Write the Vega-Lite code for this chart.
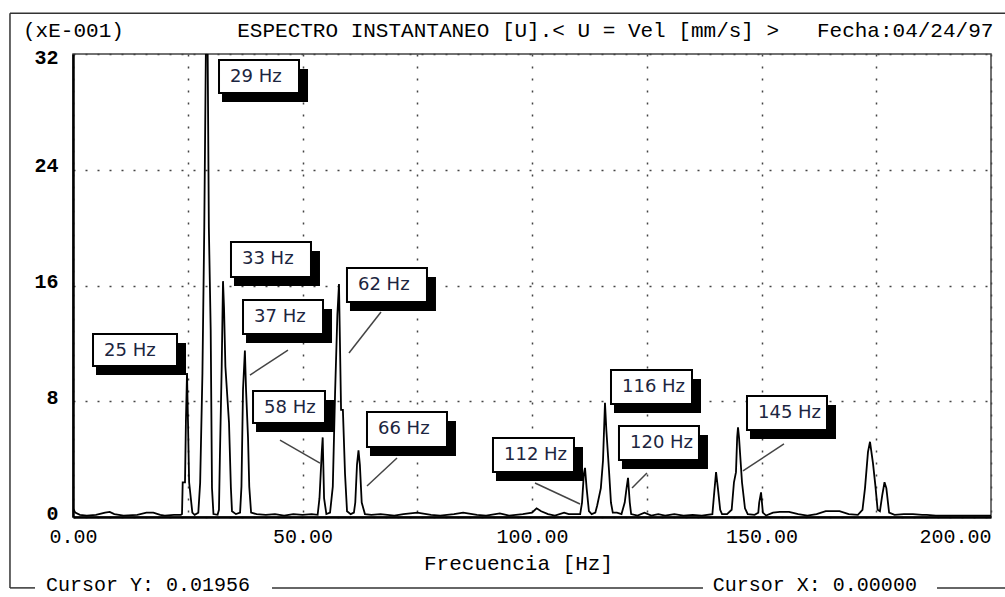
{
  "$schema": "https://vega.github.io/schema/vega-lite/v6.json",
  "width": 918,
  "height": 463,
  "autosize": "none",
  "padding": {"left": 73, "top": 54, "right": 14, "bottom": 80},
  "background": "white",
  "config": {
    "view": {"stroke": "#444", "strokeWidth": 1.5},
    "axis": {"labelColor": "black", "titleColor": "black"}
  },
  "datasets": {
    "spec": [
      {"f": 0, "a": 0.6}, {"f": 0.5, "a": 0.3}, {"f": 1.5, "a": 0.15}, {"f": 3, "a": 0.1}, {"f": 5, "a": 0.15},
      {"f": 7, "a": 0.3}, {"f": 8, "a": 0.35}, {"f": 9, "a": 0.2}, {"f": 11, "a": 0.1}, {"f": 14, "a": 0.15},
      {"f": 16, "a": 0.3}, {"f": 17.5, "a": 0.3}, {"f": 19, "a": 0.15}, {"f": 20, "a": 0.1}, {"f": 22, "a": 0.15},
      {"f": 23.5, "a": 0.15}, {"f": 23.75, "a": 0.2}, {"f": 23.9, "a": 2.4}, {"f": 24.4, "a": 2.4}, {"f": 24.6, "a": 6.6},
      {"f": 24.84, "a": 9.95}, {"f": 25.05, "a": 6.6}, {"f": 25.3, "a": 2.4}, {"f": 26.0, "a": 0.3}, {"f": 26.5, "a": 0.15},
      {"f": 27.3, "a": 0.3}, {"f": 27.7, "a": 2.35}, {"f": 28.2, "a": 9.95}, {"f": 28.6, "a": 20.0}, {"f": 29.0, "a": 34},
      {"f": 29.3, "a": 34}, {"f": 29.6, "a": 20}, {"f": 30.0, "a": 12.9}, {"f": 30.28, "a": 2.0}, {"f": 30.6, "a": 0.2},
      {"f": 31.5, "a": 0.15}, {"f": 31.8, "a": 0.5}, {"f": 32.0, "a": 4.1}, {"f": 32.4, "a": 10.4}, {"f": 32.68, "a": 16.3},
      {"f": 32.9, "a": 14.5}, {"f": 33.2, "a": 10.4}, {"f": 33.99, "a": 6.5}, {"f": 34.4, "a": 2.0}, {"f": 34.64, "a": 0.4},
      {"f": 35.5, "a": 0.2}, {"f": 36.4, "a": 0.3}, {"f": 36.7, "a": 2.1}, {"f": 37.04, "a": 8.8}, {"f": 37.45, "a": 11.5},
      {"f": 37.7, "a": 8.8}, {"f": 38.13, "a": 5.5}, {"f": 38.4, "a": 2.1}, {"f": 38.8, "a": 0.3}, {"f": 40, "a": 0.2},
      {"f": 42, "a": 0.15}, {"f": 44, "a": 0.2}, {"f": 46, "a": 0.1}, {"f": 48, "a": 0.2}, {"f": 50, "a": 0.15},
      {"f": 52, "a": 0.2}, {"f": 53.3, "a": 0.15}, {"f": 53.7, "a": 1.3}, {"f": 54.2, "a": 4.5}, {"f": 54.4, "a": 5.5},
      {"f": 54.7, "a": 1.3}, {"f": 55.2, "a": 0.2}, {"f": 56.0, "a": 0.3}, {"f": 56.6, "a": 2.1}, {"f": 57.1, "a": 8.6},
      {"f": 57.6, "a": 14}, {"f": 57.95, "a": 16.1}, {"f": 58.4, "a": 7.4}, {"f": 58.8, "a": 7.4}, {"f": 59.26, "a": 3.0},
      {"f": 59.7, "a": 0.4}, {"f": 60.5, "a": 0.2}, {"f": 61.2, "a": 0.3}, {"f": 61.5, "a": 1.0}, {"f": 61.87, "a": 3.6},
      {"f": 62.2, "a": 4.6}, {"f": 62.5, "a": 3.6}, {"f": 62.9, "a": 1.0}, {"f": 63.6, "a": 0.2}, {"f": 65, "a": 0.15},
      {"f": 67, "a": 0.2}, {"f": 70, "a": 0.1}, {"f": 72, "a": 0.2}, {"f": 75, "a": 0.3}, {"f": 78, "a": 0.15},
      {"f": 80, "a": 0.1}, {"f": 83, "a": 0.2}, {"f": 85, "a": 0.3}, {"f": 88, "a": 0.15}, {"f": 90, "a": 0.1},
      {"f": 93, "a": 0.25}, {"f": 95, "a": 0.1}, {"f": 98, "a": 0.2}, {"f": 100, "a": 0.3}, {"f": 101, "a": 0.6},
      {"f": 102, "a": 0.4}, {"f": 103.5, "a": 0.2}, {"f": 105, "a": 0.1}, {"f": 107, "a": 0.3}, {"f": 108, "a": 0.2},
      {"f": 110.5, "a": 0.2}, {"f": 110.9, "a": 1.0}, {"f": 111.3, "a": 3.0}, {"f": 111.55, "a": 3.4}, {"f": 111.9, "a": 2.0},
      {"f": 112.4, "a": 0.4}, {"f": 113, "a": 0.2}, {"f": 113.8, "a": 0.3}, {"f": 114.2, "a": 0.8}, {"f": 115.0, "a": 2.0},
      {"f": 115.47, "a": 3.9}, {"f": 115.9, "a": 7.9}, {"f": 116.2, "a": 6.0}, {"f": 116.78, "a": 3.2}, {"f": 117.2, "a": 1.0},
      {"f": 117.6, "a": 0.3}, {"f": 118.5, "a": 0.3}, {"f": 119.5, "a": 0.2}, {"f": 120.2, "a": 1.0}, {"f": 120.6, "a": 2.0},
      {"f": 120.92, "a": 2.7}, {"f": 121.3, "a": 1.0}, {"f": 121.6, "a": 0.2}, {"f": 123, "a": 0.1}, {"f": 124.5, "a": 0.3},
      {"f": 126, "a": 0.1}, {"f": 127.5, "a": 0.2}, {"f": 129, "a": 0.1}, {"f": 131, "a": 0.2}, {"f": 133, "a": 0.1},
      {"f": 135, "a": 0.15}, {"f": 137, "a": 0.1}, {"f": 139.3, "a": 0.2}, {"f": 139.65, "a": 1.5}, {"f": 140.1, "a": 3.1},
      {"f": 140.5, "a": 2.0}, {"f": 141.0, "a": 0.5}, {"f": 141.4, "a": 0.2}, {"f": 142.5, "a": 0.2}, {"f": 143.5, "a": 0.5},
      {"f": 144.0, "a": 2.4}, {"f": 144.44, "a": 3.1}, {"f": 144.7, "a": 5.5}, {"f": 144.88, "a": 6.2}, {"f": 145.1, "a": 5.5},
      {"f": 145.75, "a": 2.4}, {"f": 146.4, "a": 0.6}, {"f": 147, "a": 0.2}, {"f": 148.5, "a": 0.15}, {"f": 149.3, "a": 0.3},
      {"f": 149.5, "a": 1.0}, {"f": 149.9, "a": 1.7}, {"f": 150.3, "a": 0.3}, {"f": 151, "a": 0.1}, {"f": 152.5, "a": 0.3},
      {"f": 154, "a": 0.35}, {"f": 156, "a": 0.35}, {"f": 158, "a": 0.2}, {"f": 160, "a": 0.1}, {"f": 162, "a": 0.2},
      {"f": 164, "a": 0.4}, {"f": 167, "a": 0.4}, {"f": 169, "a": 0.2}, {"f": 171, "a": 0.15}, {"f": 172.0, "a": 0.5},
      {"f": 172.55, "a": 2.0}, {"f": 173.2, "a": 4.5}, {"f": 173.64, "a": 5.2}, {"f": 174.29, "a": 3.7}, {"f": 174.8, "a": 2.2},
      {"f": 175.3, "a": 0.5}, {"f": 175.8, "a": 0.4}, {"f": 176.3, "a": 1.5}, {"f": 176.8, "a": 2.4}, {"f": 177.2, "a": 2.0},
      {"f": 177.8, "a": 0.3}, {"f": 179, "a": 0.15}, {"f": 181, "a": 0.2}, {"f": 183, "a": 0.2}, {"f": 185, "a": 0.15},
      {"f": 186, "a": 0.15}, {"f": 188, "a": 0.1}, {"f": 190, "a": 0.1}, {"f": 193, "a": 0.1}, {"f": 196, "a": 0.1},
      {"f": 200, "a": 0.1}
    ],
    "boxes": [
      {"label": "25 Hz", "f": 4.36, "f2": 22.66, "a": 12.65, "a2": 10.44},
      {"label": "29 Hz", "f": 31.81, "f2": 49.24, "a": 31.58, "a2": 29.30},
      {"label": "33 Hz", "f": 34.42, "f2": 51.85, "a": 19.01, "a2": 16.59},
      {"label": "37 Hz", "f": 37.04, "f2": 54.47, "a": 15.00, "a2": 12.65},
      {"label": "62 Hz", "f": 59.69, "f2": 77.12, "a": 17.21, "a2": 14.86},
      {"label": "58 Hz", "f": 39.22, "f2": 54.90, "a": 8.71, "a2": 6.50},
      {"label": "66 Hz", "f": 64.05, "f2": 81.48, "a": 7.26, "a2": 4.84},
      {"label": "112 Hz", "f": 91.50, "f2": 109.15, "a": 5.46, "a2": 3.11},
      {"label": "116 Hz", "f": 117.21, "f2": 134.86, "a": 10.16, "a2": 7.81},
      {"label": "120 Hz", "f": 118.95, "f2": 136.38, "a": 6.29, "a2": 3.94},
      {"label": "145 Hz", "f": 146.84, "f2": 164.27, "a": 8.36, "a2": 6.01}
    ],
    "leaders": [
      {"f": 46.84, "a": 11.54, "f2": 38.56, "a2": 9.81},
      {"f": 67.10, "a": 14.17, "f2": 60.13, "a2": 11.33},
      {"f": 45.10, "a": 5.32, "f2": 53.81, "a2": 3.73},
      {"f": 70.59, "a": 4.08, "f2": 64.05, "a2": 2.14},
      {"f": 100.65, "a": 2.35, "f2": 110.46, "a2": 0.90},
      {"f": 125.05, "a": 3.04, "f2": 121.79, "a2": 2.00},
      {"f": 154.90, "a": 5.05, "f2": 145.97, "a2": 3.18}
    ],
    "frame": [
      {"f": -13.73, "f2": 203.2, "a": 34.81, "a2": 34.81},
      {"f": -13.73, "f2": -13.73, "a": 34.81, "a2": -4.9},
      {"f": -13.73, "f2": -8.28, "a": -4.9, "a2": -4.9},
      {"f": 43.36, "f2": 137.25, "a": -4.9, "a2": -4.9},
      {"f": 188.24, "f2": 203.2, "a": -4.9, "a2": -4.9}
    ],
    "notes": [
      {"f": -5.88, "a": -4.7, "text": "Cursor Y: 0.01956"},
      {"f": 139.4, "a": -4.7, "text": "Cursor X: 0.00000"}
    ],
    "header": [
      {"f": -10.89, "a": 33.6, "text": "(xE-001)\u00a0\u00a0\u00a0\u00a0\u00a0\u00a0\u00a0\u00a0\u00a0ESPECTRO INSTANTANEO [U].< U = Vel [mm/s] >\u00a0\u00a0\u00a0Fecha:04/24/97"}
    ]
  },
  "layer": [
    {
      "data": {"name": "spec"},
      "mark": {"type": "line", "color": "black", "strokeWidth": 1.8, "clip": true},
      "encoding": {
        "x": {
          "field": "f", "type": "quantitative",
          "scale": {"domain": [0, 200], "nice": false, "zero": false},
          "axis": {
            "values": [0, 25, 50, 75, 100, 125, 150, 175, 200],
            "labelExpr": "datum.value % 50 == 0 ? format(datum.value, '.2f') : ''",
            "labelAlign": {"expr": "datum.value == 200 ? 'right' : 'center'"},
            "title": "Frecuencia [Hz]",
            "titleFont": "Liberation Mono", "titleFontSize": 21, "titleFontWeight": "normal",
            "titleX": 445, "titleY": 46, "titleBaseline": "middle",
            "labelFont": "Liberation Mono", "labelFontSize": 20, "labelPadding": 9,
            "labelFlush": false,
            "ticks": false,
            "domainColor": "black", "domainWidth": 2.5,
            "grid": true, "gridColor": "#444", "gridDash": [2, 10], "gridWidth": 1.5
          }
        },
        "y": {
          "field": "a", "type": "quantitative",
          "scale": {"domain": [0, 32], "nice": false},
          "axis": {
            "values": [0, 8, 16, 24, 32],
            "title": null,
            "labelFont": "Liberation Mono", "labelFontSize": 20, "labelFontWeight": "bold",
            "labelPadding": 15, "labelFlush": false,
            "labelOffset": {"expr": "datum.value == 32 ? 3 : -4"},
            "ticks": false,
            "domainColor": "black", "domainWidth": 2.5,
            "grid": true, "gridColor": "#444", "gridDash": [2, 10], "gridWidth": 1.5
          }
        }
      }
    },
    {
      "data": {"name": "leaders"},
      "mark": {"type": "rule", "color": "#444", "strokeWidth": 1.5},
      "encoding": {
        "x": {"field": "f", "type": "quantitative"},
        "x2": {"field": "f2"},
        "y": {"field": "a", "type": "quantitative"},
        "y2": {"field": "a2"}
      }
    },
    {
      "data": {"name": "boxes"},
      "mark": {"type": "rect", "color": "black", "xOffset": 3, "x2Offset": 9, "yOffset": 9, "y2Offset": 9},
      "encoding": {
        "x": {"field": "f", "type": "quantitative"},
        "x2": {"field": "f2"},
        "y": {"field": "a", "type": "quantitative"},
        "y2": {"field": "a2"}
      }
    },
    {
      "data": {"name": "boxes"},
      "mark": {"type": "rect", "fill": "white", "stroke": "black", "strokeWidth": 2},
      "encoding": {
        "x": {"field": "f", "type": "quantitative"},
        "x2": {"field": "f2"},
        "y": {"field": "a", "type": "quantitative"},
        "y2": {"field": "a2"}
      }
    },
    {
      "data": {"name": "boxes"},
      "mark": {"type": "text", "align": "left", "baseline": "middle", "dx": 11, "dy": 17, "font": "DejaVu Sans", "fontSize": 18, "color": "#1c2540"},
      "encoding": {
        "x": {"field": "f", "type": "quantitative"},
        "y": {"field": "a", "type": "quantitative"},
        "text": {"field": "label"}
      }
    },
    {
      "data": {"name": "frame"},
      "mark": {"type": "rule", "color": "#333", "strokeWidth": 1.5},
      "encoding": {
        "x": {"field": "f", "type": "quantitative"},
        "x2": {"field": "f2"},
        "y": {"field": "a", "type": "quantitative"},
        "y2": {"field": "a2"}
      }
    },
    {
      "data": {"name": "notes"},
      "mark": {"type": "text", "align": "left", "baseline": "middle", "font": "Liberation Mono", "fontSize": 20, "color": "black"},
      "encoding": {
        "x": {"field": "f", "type": "quantitative"},
        "y": {"field": "a", "type": "quantitative"},
        "text": {"field": "text"}
      }
    },
    {
      "data": {"name": "header"},
      "mark": {"type": "text", "align": "left", "baseline": "middle", "font": "Liberation Mono", "fontSize": 21, "color": "black"},
      "encoding": {
        "x": {"field": "f", "type": "quantitative"},
        "y": {"field": "a", "type": "quantitative"},
        "text": {"field": "text"}
      }
    }
  ]
}
